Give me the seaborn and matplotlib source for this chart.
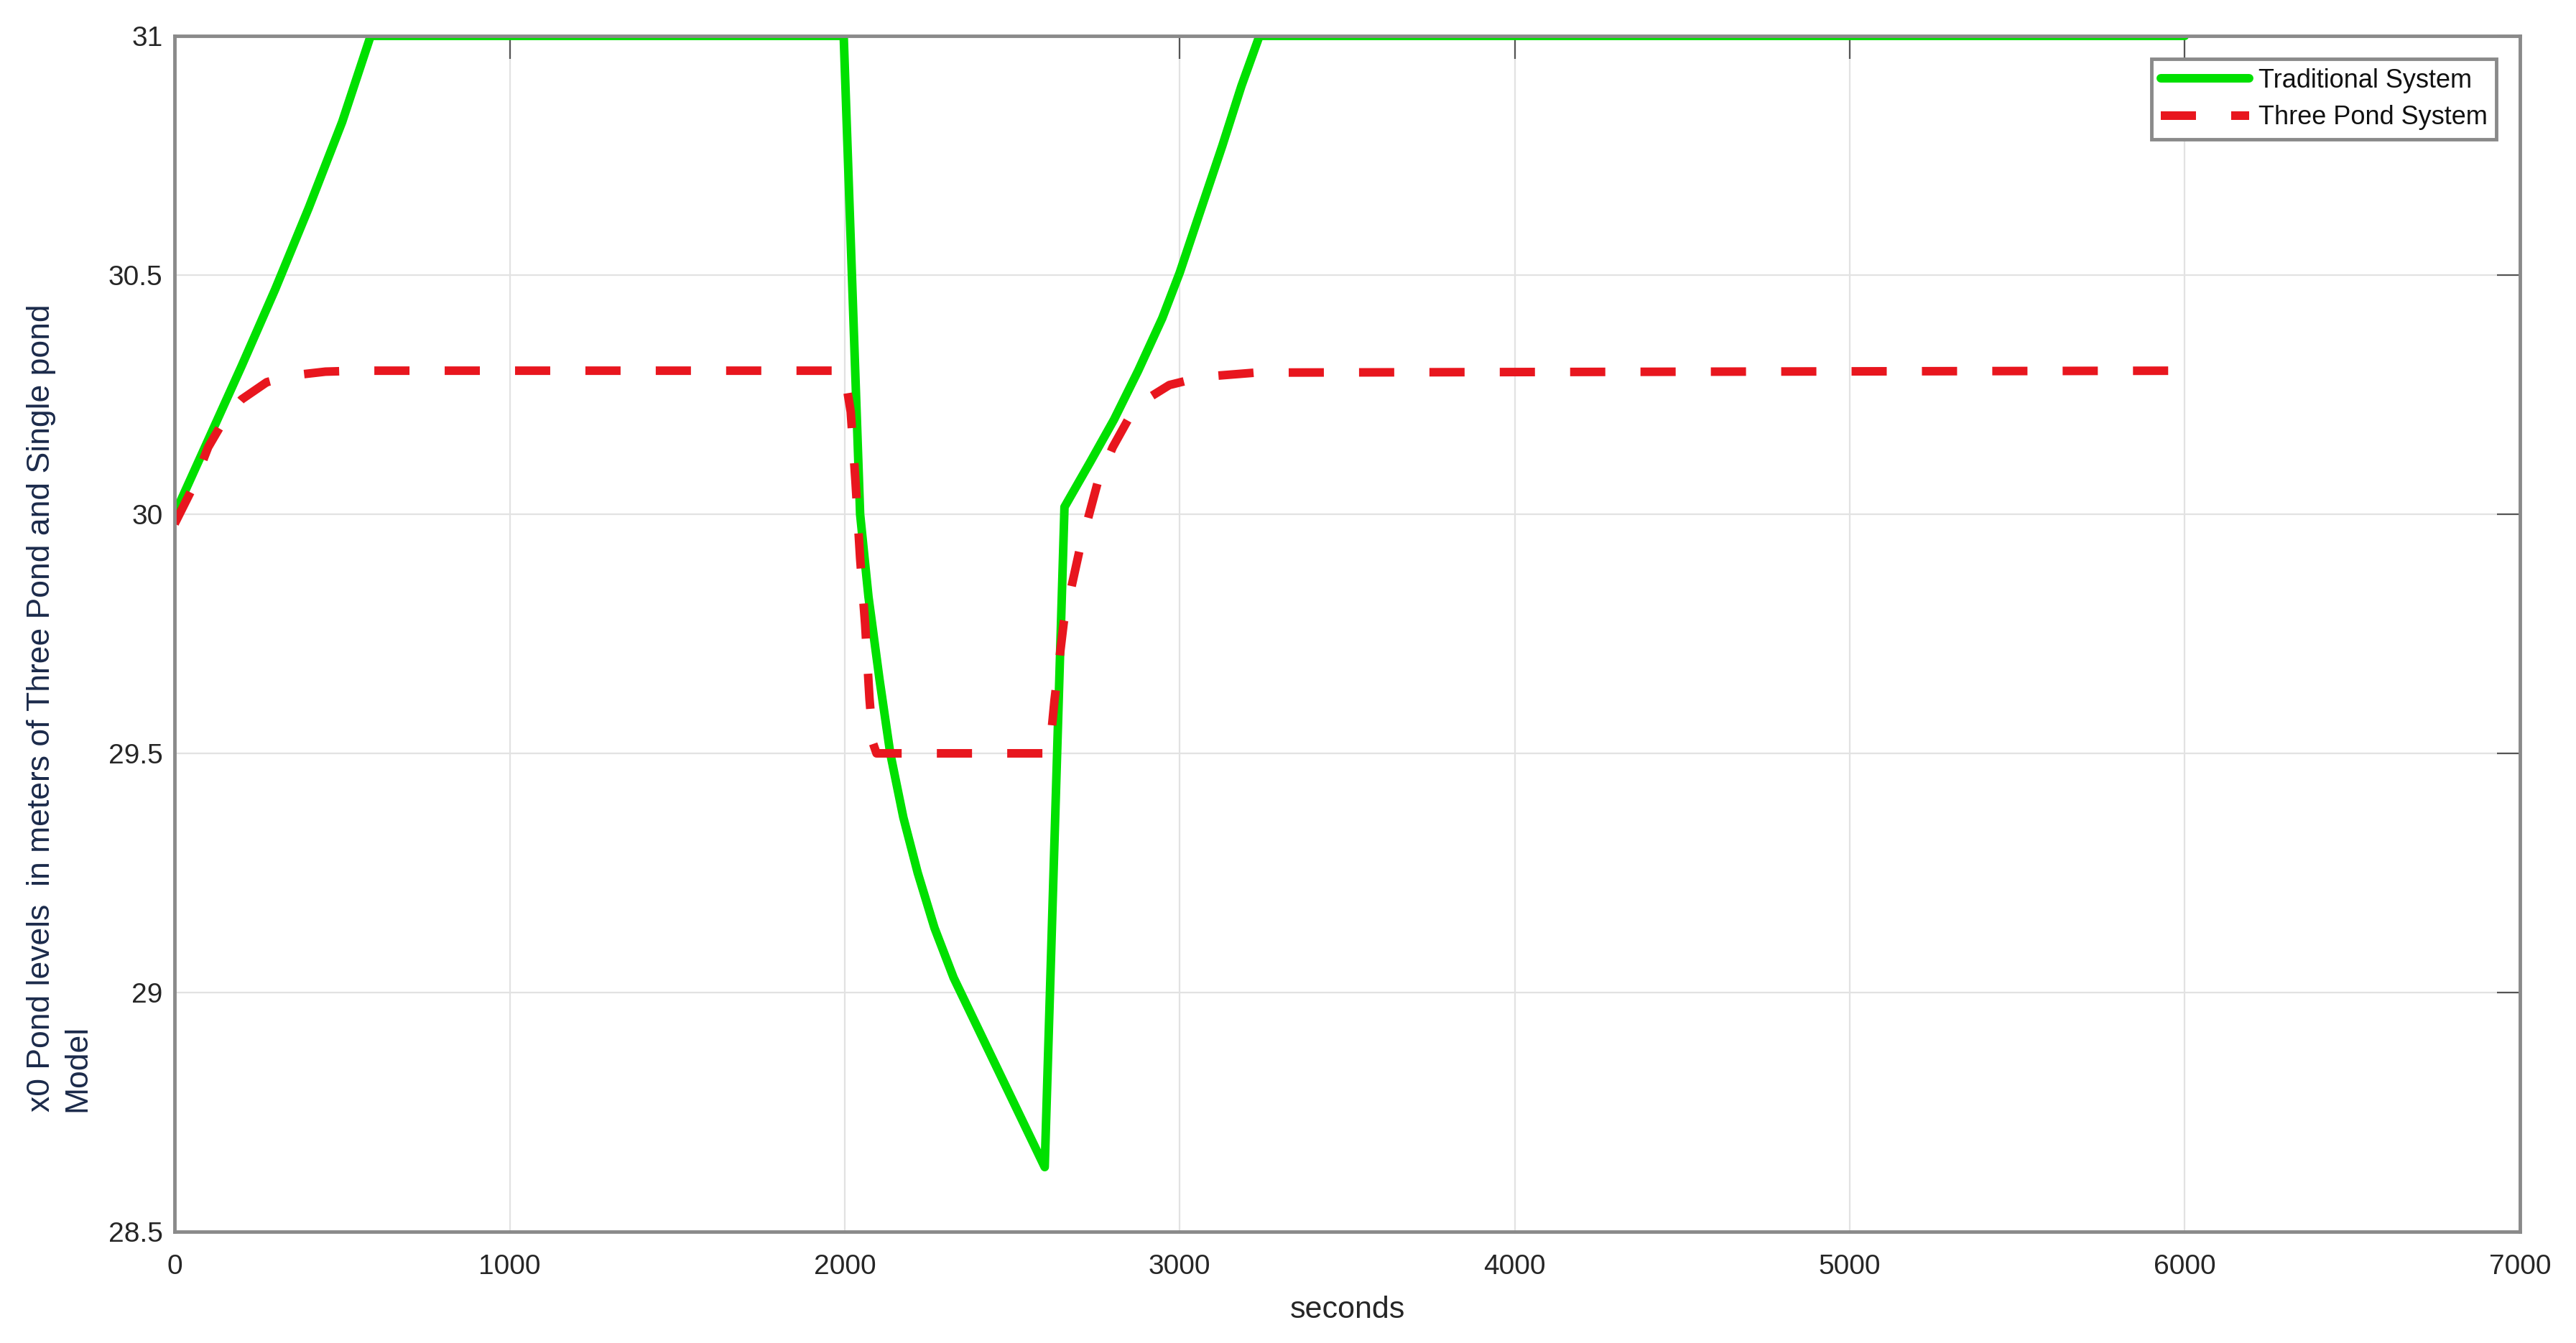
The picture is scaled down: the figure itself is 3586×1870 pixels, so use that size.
import pandas as pd
import matplotlib
matplotlib.use("Agg")
import matplotlib.pyplot as plt
import seaborn as sns

# leitura aproximada das curvas (segundos, nivel em metros)
trad_t = [0, 100, 200, 300, 400, 500, 585, 1997, 2046, 2071, 2104, 2136, 2175, 2218,
          2268, 2325, 2597, 2656, 2732, 2804, 2876, 2948, 3000, 3055, 3127, 3184, 3238, 6000]
trad_nivel = [30.0, 30.155, 30.31, 30.47, 30.64, 30.82, 31.0, 31.0, 30.0, 29.827, 29.654, 29.5, 29.366, 29.25,
              29.135, 29.031, 28.635, 30.015, 30.108, 30.198, 30.3, 30.41, 30.505, 30.62, 30.77, 30.895, 31.0, 31.0]

pond_t = [0, 50, 100, 150, 200, 275, 350, 450, 550, 1998, 2018, 2032, 2046, 2061, 2074,
          2085, 2095, 2611, 2626, 2654, 2701, 2755, 2800, 2846, 2900, 2969, 3066, 3227, 6000]
pond_nivel = [29.98, 30.05, 30.14, 30.2, 30.24, 30.276, 30.29, 30.298, 30.3, 30.3, 30.214, 30.07, 29.908, 29.77, 29.614,
              29.52, 29.5, 29.5, 29.61, 29.775, 29.925, 30.066, 30.14, 30.198, 30.24, 30.27, 30.287, 30.296, 30.3]

x_ticks = [0, 1000, 2000, 3000, 4000, 5000, 6000, 7000]
y_ticks = [28.5, 29, 29.5, 30, 30.5, 31]
y_tick_labels = ["28.5", "29", "29.5", "30", "30.5", "31"]

df_trad = pd.DataFrame({"t": trad_t, "nivel": trad_nivel})
df_pond = pd.DataFrame({"t": pond_t, "nivel": pond_nivel})

sns.set_style("whitegrid")
plt.rcParams["font.family"] = ["Liberation Sans", "DejaVu Sans"]

fig = plt.figure(figsize=(35.86, 18.70), dpi=100)
ax = fig.add_axes([0.0678, 0.0829, 0.9104, 0.8904])

sns.lineplot(data=df_trad, x="t", y="nivel", ax=ax, color="#00e000", linewidth=8.6,
             label="Traditional System", estimator=None, sort=False)
sns.lineplot(data=df_pond, x="t", y="nivel", ax=ax, color="#e8161e", linewidth=8.6,
             linestyle=(0, (4.1, 4.1)), label="Three Pond System", estimator=None, sort=False)

ax.set_xlim(0, 7000)
ax.set_ylim(28.5, 31)
ax.set_xticks(x_ticks)
ax.set_yticks(y_ticks)
ax.set_yticklabels(y_tick_labels)
ax.grid(True, color="#e2e2e2", linewidth=1.6)
ax.set_axisbelow(True)

for s in ax.spines.values():
    s.set_visible(True)
    s.set_color("#8a8a8a")
    s.set_linewidth(3.5)

ax.tick_params(axis="both", which="both", direction="in", length=23, width=1.6,
               color="#555555", top=True, right=True, labelsize=28, labelcolor="#262626")
ax.tick_params(axis="x", pad=22)
ax.tick_params(axis="y", pad=12)

ax.set_xlabel("seconds", fontsize=31, color="#262626", labelpad=16)
ax.set_ylabel("")

fig.text(0.0103, 0.172,
         "x0 Pond levels  in meters of Three Pond and Single pond\nModel",
         rotation=90, ha="left", va="bottom", multialignment="left",
         fontsize=32, color="#1b2a4a", linespacing=1.3)

leg = ax.legend(loc="upper right", fontsize=26, handlelength=3.4, handletextpad=0.36,
                borderpad=0.35, labelspacing=0.45, borderaxespad=0.9, fancybox=False,
                framealpha=1, edgecolor="#8a8a8a")
leg.get_frame().set_linewidth(3.5)
for t in leg.get_texts():
    t.set_color("#111111")

fig.savefig("out.png", dpi=100)
